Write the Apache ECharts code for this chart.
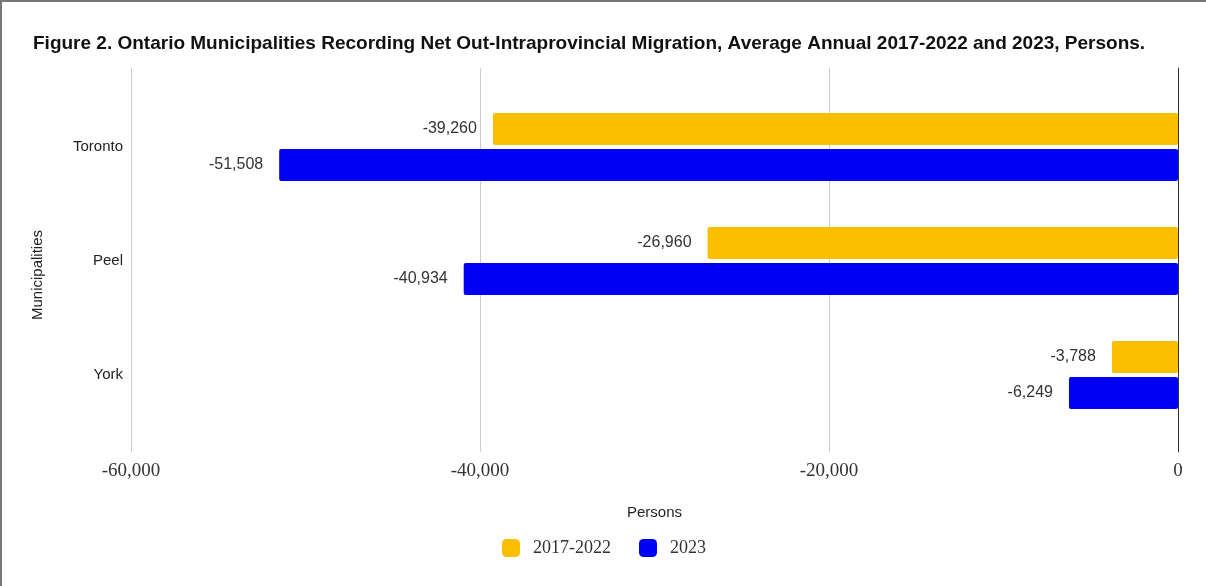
<!DOCTYPE html>
<html>
<head>
<meta charset="utf-8">
<script src="https://cdn.jsdelivr.net/npm/echarts@6/dist/echarts.min.js"></script>
<style>
  html, body { margin: 0; padding: 0; background: #fff; }
  #chart { width: 1206px; height: 586px; }
</style>
</head>
<body>
<div id="chart"></div>
<script>
// 数据
const categories = ['Toronto', 'Peel', 'York']
const seriesNames = ['2017-2022', '2023']
const avg2017to2022 = [-39260, -26960, -3788]
const values2023 = [-51508, -40934, -6249]
const xTicks = [-60000, -40000, -20000, 0]

const sans = 'Liberation Sans, Arial, sans-serif'
const serif = 'Liberation Serif, Times New Roman, serif'
const fmt = v => Number(v).toLocaleString('en-US')

const myChart = echarts.init(document.getElementById('chart'))

const barLabel = {
  show: true,
  position: 'left',
  distance: 16,
  color: '#333',
  fontFamily: sans,
  fontSize: 16,
  formatter: p => fmt(p.value)
}

const option = {
  animation: false,
  backgroundColor: '#fff',
  title: {
    text: 'Figure 2. Ontario Municipalities Recording Net Out-Intraprovincial Migration, Average Annual 2017-2022 and 2023, Persons.',
    left: 28,
    top: 29,
    textStyle: { fontFamily: sans, fontSize: 19, fontWeight: 'bold', color: '#111' }
  },
  legend: {
    left: 497,
    top: 534,
    itemWidth: 18,
    itemHeight: 18,
    itemGap: 28,
    icon: 'roundRect',
    data: seriesNames,
    textStyle: { fontFamily: serif, fontSize: 18, color: '#333', padding: [0, 0, 0, 8] }
  },
  graphic: [
    {
      type: 'polyline',
      shape: { points: [[1, 586], [1, 1], [1206, 1]] },
      style: { stroke: '#777', lineWidth: 2, fill: null },
      silent: true
    },
    {
      // 纵轴标题
      type: 'text',
      x: 38,
      y: 275,
      rotation: Math.PI / 2,
      style: {
        text: 'Municipalities',
        fontFamily: sans,
        fontSize: 15,
        fill: '#222',
        align: 'center',
        verticalAlign: 'middle'
      },
      silent: true
    }
  ],
  grid: [
    // 网格线和坐标轴
    { left: 131, right: 28, top: 68, bottom: 134 },
    // 柱子
    { left: 131, right: 28, top: 90, bottom: 154 }
  ],
  xAxis: [
    {
      gridIndex: 0,
      type: 'value',
      min: xTicks[0],
      max: xTicks[xTicks.length - 1],
      interval: 20000,
      name: 'Persons',
      nameLocation: 'middle',
      nameGap: 53,
      nameTextStyle: { fontFamily: sans, fontSize: 15, color: '#222' },
      axisLine: { show: false },
      axisTick: { show: false },
      axisLabel: {
        margin: 10,
        fontFamily: serif,
        fontSize: 19,
        color: '#333',
        formatter: v => fmt(v)
      },
      splitLine: { show: true, lineStyle: { color: '#ccc', width: 1 } }
    },
    {
      gridIndex: 1,
      type: 'value',
      min: xTicks[0],
      max: xTicks[xTicks.length - 1],
      interval: 20000,
      show: false
    }
  ],
  yAxis: [
    {
      gridIndex: 0,
      type: 'value',
      min: 0,
      max: 1,
      position: 'right',
      axisLine: { show: true, onZero: false, lineStyle: { color: '#333', width: 1 } },
      axisTick: { show: false },
      axisLabel: { show: false },
      splitLine: { show: false }
    },
    {
      gridIndex: 1,
      type: 'category',
      inverse: true,
      data: categories,
      axisLine: { show: false },
      axisTick: { show: false },
      axisLabel: { margin: 8, fontFamily: sans, fontSize: 15, color: '#222' }
    }
  ],
  series: [
    {
      name: seriesNames[0],
      type: 'bar',
      xAxisIndex: 1,
      yAxisIndex: 1,
      data: avg2017to2022,
      barWidth: 32,
      barGap: '12%',
      itemStyle: { color: '#FCBF00', borderRadius: 2 },
      label: barLabel
    },
    {
      name: seriesNames[1],
      type: 'bar',
      xAxisIndex: 1,
      yAxisIndex: 1,
      data: values2023,
      barWidth: 32,
      barGap: '12%',
      itemStyle: { color: '#0000F5', borderRadius: 2 },
      label: barLabel
    }
  ]
}

myChart.setOption(option)
</script>
</body>
</html>
